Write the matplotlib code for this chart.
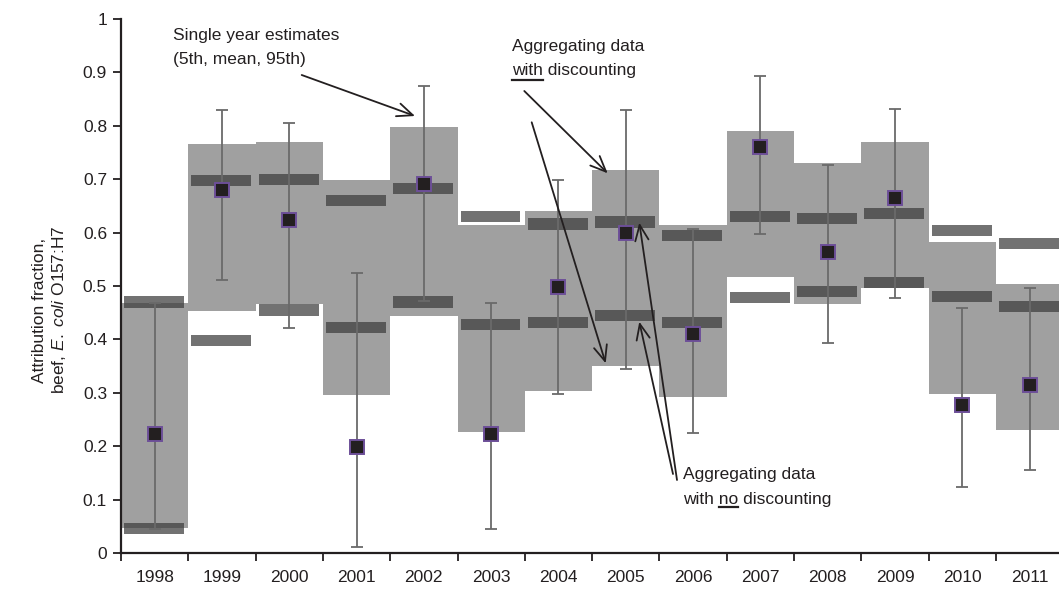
import matplotlib
matplotlib.use("Agg")
import matplotlib.pyplot as plt
from matplotlib import font_manager
from matplotlib.patches import Rectangle
from matplotlib.lines import Line2D

# ---------------- data ----------------
years = [1998, 1999, 2000, 2001, 2002, 2003, 2004, 2005, 2006, 2007, 2008, 2009, 2010, 2011]
# aggregating with discounting (5th, 95th) -> light grey boxes
disc_lo = [0.047, 0.453, 0.466, 0.295, 0.444, 0.227, 0.304, 0.351, 0.292, 0.516, 0.466, 0.497, 0.297, 0.231]
disc_hi = [0.469, 0.766, 0.770, 0.698, 0.798, 0.615, 0.641, 0.717, 0.614, 0.790, 0.731, 0.769, 0.582, 0.504]
# aggregating with no discounting (5th, 95th) -> dark bars
nodisc_lo = [0.046, 0.398, 0.455, 0.422, 0.470, 0.428, 0.431, 0.445, 0.432, 0.479, 0.490, 0.507, 0.481, 0.461]
nodisc_hi = [0.470, 0.698, 0.700, 0.660, 0.683, 0.630, 0.616, 0.620, 0.595, 0.630, 0.627, 0.636, 0.604, 0.580]
# single year estimates
single_mean = [0.222, 0.680, 0.624, 0.199, 0.691, 0.222, 0.499, 0.599, 0.411, 0.761, 0.564, 0.665, 0.277, 0.315]
single_p5 = [0.045, 0.511, 0.421, 0.012, 0.471, 0.045, 0.298, 0.344, 0.225, 0.597, 0.394, 0.477, 0.123, 0.155]
single_p95 = [0.469, 0.830, 0.806, 0.525, 0.875, 0.469, 0.698, 0.830, 0.607, 0.893, 0.727, 0.831, 0.459, 0.496]
y_ticks = [0, 0.1, 0.2, 0.3, 0.4, 0.5, 0.6, 0.7, 0.8, 0.9, 1]
y_tick_labels = ["0", "0.1", "0.2", "0.3", "0.4", "0.5", "0.6", "0.7", "0.8", "0.9", "1"]

# ---------------- fonts ----------------
names = {f.name for f in font_manager.fontManager.ttflist}
if "Liberation Sans Narrow" in names:
    FAM = ["Liberation Sans Narrow", "DejaVu Sans"]
    FS = 14
else:
    FAM = ["Liberation Sans", "DejaVu Sans"]
    FS = 12.5
plt.rcParams["font.family"] = FAM
plt.rcParams["mathtext.fontset"] = "custom"
plt.rcParams["mathtext.it"] = FAM[0] + ":italic"
plt.rcParams["mathtext.rm"] = FAM[0]
TXT = "#231f20"

W, H = 1059, 596
fig = plt.figure(figsize=(W / 100, H / 100), dpi=100)
px_per = 67.3
x0, y0, y1 = 121, 553, 19
ax = fig.add_axes([x0 / W, (H - y0) / H, (W - x0) / W, (y0 - y1) / H])
ax.set_xlim(0, (W - x0) / px_per)
ax.set_ylim(0, 1)

n = len(years)
BOX = "#a0a0a0"
BAR_H = 0.021
BAR_W = 0.89

for i in range(n):
    ax.add_patch(Rectangle((i, disc_lo[i]), 1, disc_hi[i] - disc_lo[i],
                           facecolor=BOX, edgecolor="none", zorder=1))
for i in range(n):
    for v in (nodisc_lo[i], nodisc_hi[i]):
        ax.add_patch(Rectangle((i + 0.5 - BAR_W / 2 - 0.01, v - BAR_H / 2), BAR_W, BAR_H,
                               facecolor="#3c3c3c", alpha=0.72, edgecolor="none", zorder=2))

xc = [i + 0.5 for i in range(n)]
lo_err = [m - a for m, a in zip(single_mean, single_p5)]
hi_err = [b - m for m, b in zip(single_mean, single_p95)]
ax.errorbar(xc, single_mean, yerr=[lo_err, hi_err], fmt="none", ecolor="#6a6a6a",
            elinewidth=1.3, capsize=4.5, capthick=1.3, zorder=3)
ax.plot(xc, single_mean, linestyle="none", marker="s", markersize=9.5,
        markerfacecolor="#231f20", markeredgecolor="#6d4f98", markeredgewidth=1.4, zorder=4)

# axes styling
for s in ("top", "right"):
    ax.spines[s].set_visible(False)
for s in ("left", "bottom"):
    ax.spines[s].set_linewidth(1.6)
    ax.spines[s].set_color(TXT)
ax.set_yticks(y_ticks)
ax.set_yticklabels(y_tick_labels)
ax.set_xticks(list(range(0, n)))
ax.set_xticklabels([])
ax.set_xticks(xc, minor=True)
ax.set_xticklabels([str(y) for y in years], minor=True)
ax.tick_params(axis="x", which="major", direction="out", length=6, width=1.3, color=TXT)
ax.tick_params(axis="x", which="minor", length=0, pad=12, labelsize=FS, labelcolor=TXT)
ax.tick_params(axis="y", direction="out", length=6, width=1.3, color=TXT, labelsize=FS,
               labelcolor=TXT, pad=4)

# y label
fig.text(50 / W, 1 - 310 / H, "Attribution fraction,\nbeef, $\\it{E.\\ coli}$ O157:H7",
         rotation=90, ha="center", va="center", multialignment="center",
         fontsize=FS, color=TXT, linespacing=1.25)

def fp(x, y):
    return (x, H - y)

def text_at(x, y, s):
    return fig.text(x / W, 1 - y / H, s, ha="left", va="baseline", fontsize=FS, color=TXT)

text_at(173, 40, "Single year estimates")
text_at(173, 64, "(5th, mean, 95th)")
text_at(512, 51, "Aggregating data")
text_at(512, 75, "with discounting")
text_at(683, 479, "Aggregating data")
text_at(683, 504, "with no discounting")

# underlines
fig.canvas.draw()
r = fig.canvas.get_renderer()
def width_px(s):
    t = fig.text(0, 0, s, fontsize=FS)
    w = t.get_window_extent(renderer=r).width
    t.remove()
    return w
w_with = width_px("with")
w_with_sp = width_px("with ")
w_no = width_px("no")
fig.add_artist(Line2D([512 / W, (512 + w_with) / W], [1 - 80 / H, 1 - 80 / H],
                      color=TXT, lw=1.6, transform=fig.transFigure))
ux = 683 + w_with_sp
fig.add_artist(Line2D([ux / W, (ux + w_no) / W], [1 - 507 / H, 1 - 507 / H],
                      color=TXT, lw=1.6, transform=fig.transFigure))

arrows = [((301.7, 75), (415, 116)),
          ((524.3, 91), (607.7, 173.3)),
          ((531.7, 122.3), (605.7, 363.3)),
          ((677, 480), (639.3, 222.7)),
          ((673, 474), (639.3, 321.7))]
for (sx, sy), (ex, ey) in arrows:
    ax.annotate("", xy=fp(ex, ey), xytext=fp(sx, sy), xycoords="figure pixels",
                textcoords="figure pixels",
                arrowprops=dict(arrowstyle="->,head_length=0.7,head_width=0.3",
                                lw=1.3, color=TXT, shrinkA=0, shrinkB=0,
                                mutation_scale=16), zorder=6)

fig.savefig("out.png", dpi=100)
